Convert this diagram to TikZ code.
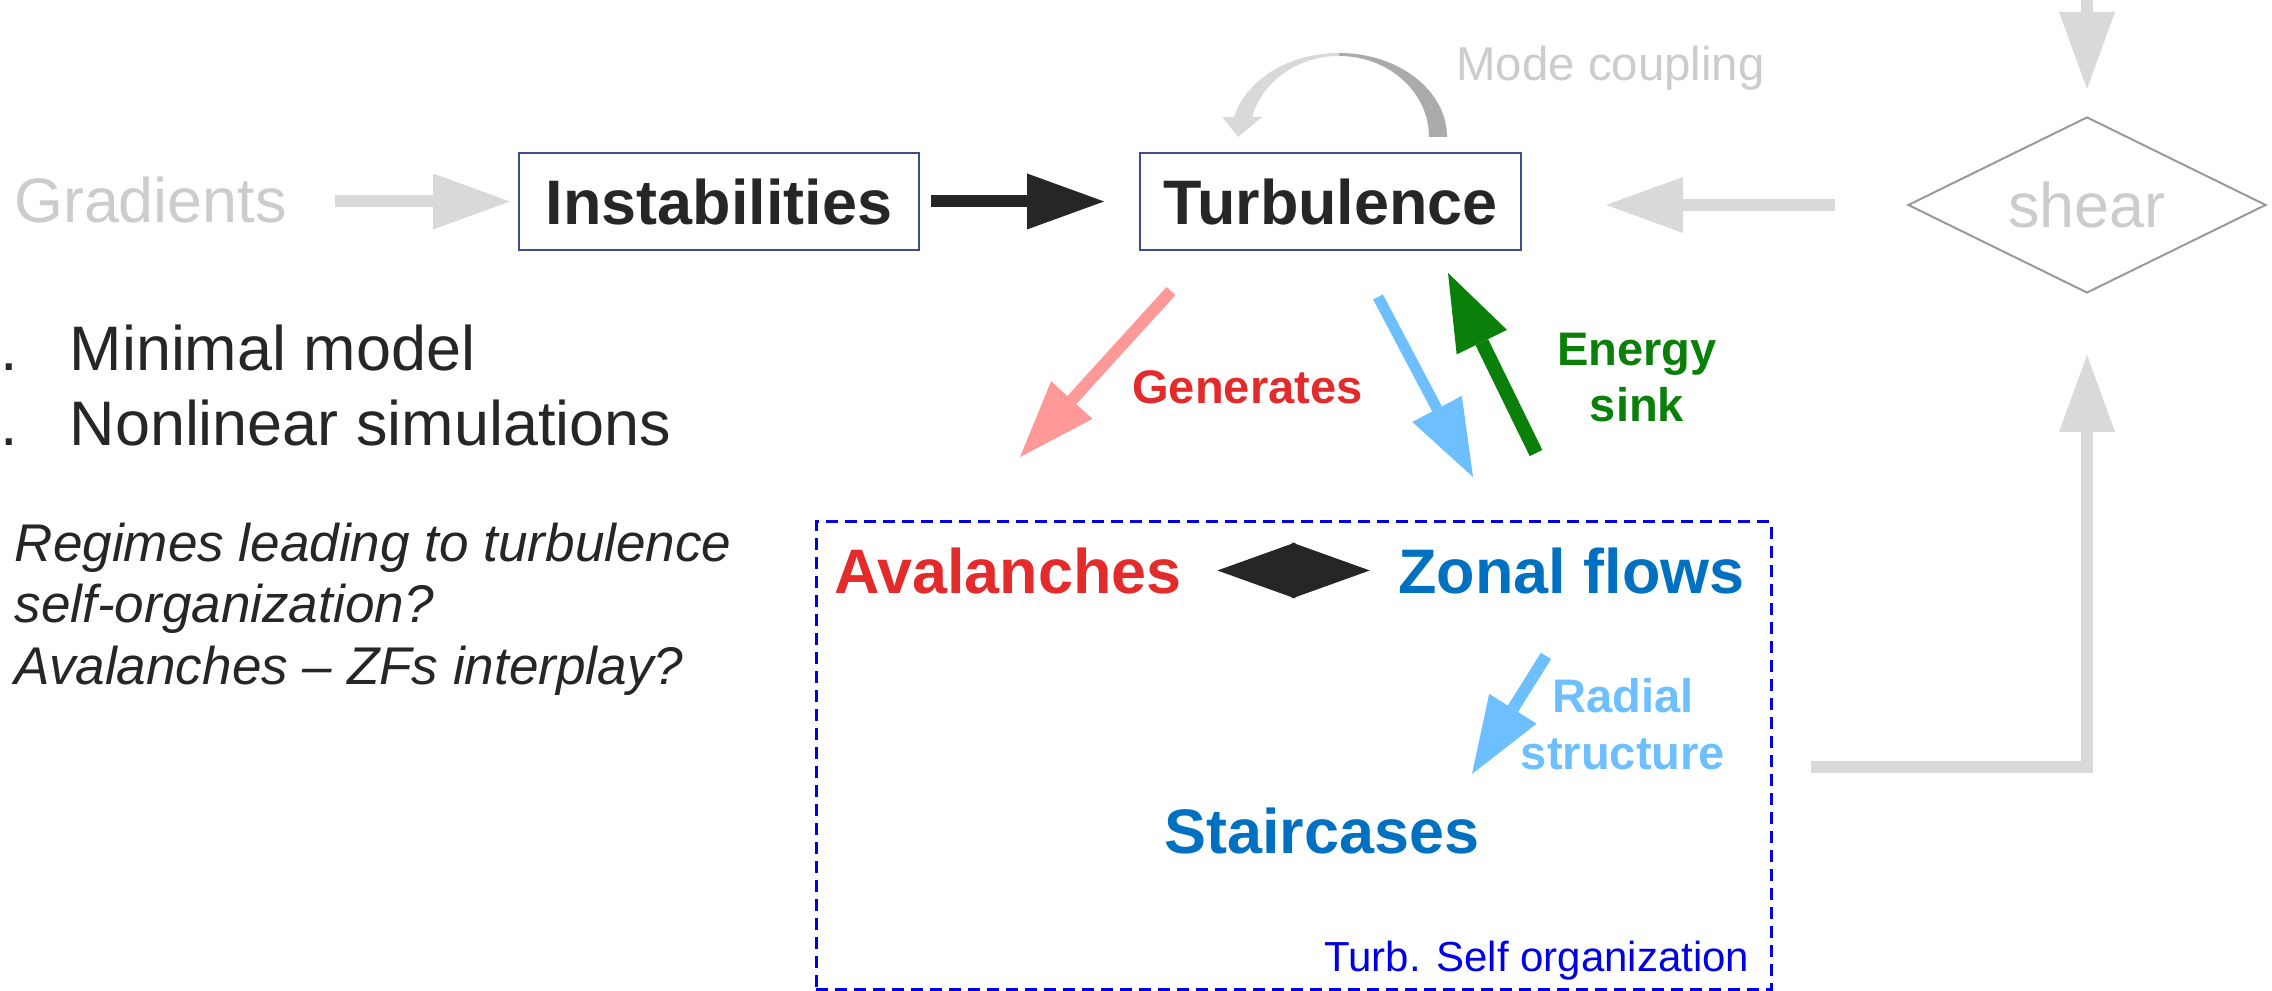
\documentclass[tikz,border=0pt]{standalone}
\usepackage{fontspec}
\setmainfont{Liberation Sans}[Ligatures=CommonOff]
\usetikzlibrary{arrows.meta,positioning,shapes.geometric}
\definecolor{ink}{HTML}{262626}
\definecolor{boxblue}{HTML}{3C4C8C}
\definecolor{greytext}{HTML}{CCCCCC}
\definecolor{arrowgrey}{HTML}{D9D9D9}
\definecolor{arcdark}{HTML}{ABABAB}
\definecolor{diamondgrey}{HTML}{999999}
\definecolor{avred}{HTML}{E32B2B}
\definecolor{zfblue}{HTML}{0070C0}
\definecolor{lightblue}{HTML}{6DBFFF}
\definecolor{genpink}{HTML}{FF9999}
\definecolor{sinkgreen}{HTML}{0A7F0A}
\definecolor{dashblue}{HTML}{0000E6}
\tikzset{
  big/.style={font=\fontsize{17.9}{21.5}\selectfont,inner sep=0pt,text height=0.455cm,text depth=0pt},
  bigb/.style={big,font=\fontsize{17.9}{21.5}\selectfont\bfseries},
  box/.style={bigb,draw=boxblue,line width=0.02cm,minimum height=0.97cm,text=ink},
  mid/.style={font=\fontsize{13.4}{16.1}\selectfont\bfseries,inner sep=0pt,align=center,anchor=north},
  fat/.style={line width=0.12cm,-{Triangle[length=0.77cm,width=0.56cm,line width=0pt]}},
}
\begin{document}
\begin{tikzpicture}
\useasboundingbox (0,0) rectangle (22.72,9.91);
% \draw[help lines] (0,0) grid (22,9);
\node (grad) [big,text=greytext] at (1.505,7.915) {Gradients};
\node (inst) [box,minimum width=4.0cm] at (7.19,7.895) {Instabilities};
\node (turb) [box,minimum width=3.81cm] at (13.305,7.895) {Turbulence};
\node (shear) [diamond,aspect=2,draw=diamondgrey,line width=0.02cm,minimum width=3.58cm,minimum height=1.76cm,inner sep=0pt,text=greytext,font=\fontsize{17.9}{21.5}\selectfont] at (20.87,7.86) {shear};
\node (mc) [anchor=base west,inner sep=0pt,text=greytext,font=\fontsize{13.5}{16}\selectfont] at (14.555,9.10) {Mode coupling};
%
\node (bul) [anchor=north west,inner sep=0pt,align=left,text=ink,font=\fontsize{17.9}{21.3}\selectfont] at (0,6.67) {\makebox[0.69cm][l]{.}Minimal model\\\makebox[0.69cm][l]{.}Nonlinear simulations};
\node (quest) [anchor=north west,inner sep=0pt,align=left,text=ink,font=\itshape\fontsize{15.1}{17.6}\selectfont] at (0.14,4.69) {Regimes leading to turbulence\\self-organization?\\Avalanches – ZFs interplay?};
%
\node (sobox) [draw=dashblue,line width=0.03cm,dash pattern=on 0.12cm off 0.07cm,minimum width=9.55cm,minimum height=4.68cm,inner sep=0pt] at (12.935,2.35) {};
\node (aval) [bigb,text=avred] at (10.08,4.205) {Avalanches};
\node (zf) [bigb,text=zfblue] at (15.715,4.205) {Zonal flows};
\node (stair) [bigb,text=zfblue] at (13.22,1.605) {Staircases};
\node (tso) [anchor=base east,inner sep=0pt,text=dashblue,font=\fontsize{11.95}{14}\selectfont] at (17.50,0.19) {Turb. Self organization};
%
\node (gen) [mid,anchor=base,text=avred] at (12.475,5.87) {Generates};
\node (sink) [mid,text=sinkgreen] at (16.37,6.59) {Energy\\sink};
\node (rad) [mid,text=lightblue] at (16.23,3.13) {Radial\\structure};
%
\draw[fat,draw=arrowgrey,shorten <=0.47cm,shorten >=0.08cm] (grad.east |- inst.west) -- (inst.west);
\draw[fat,draw=ink,shorten <=0.11cm,shorten >=0.35cm] (inst.east) -- (turb.west);
\draw[fat,draw=arrowgrey,shorten <=0.72cm,shorten >=0.84cm] (shear.west) -- (turb.east |- shear.west);
\coordinate (shtop) at (20.87,9.91);
\draw[fat,draw=arrowgrey,shorten >=0.27cm] (shtop) -- (shear.north);
\draw[fat,draw=arrowgrey,shorten >=0.61cm] ([shift={(0.38,-0.11)}]sobox.east) -| (shear.south);
% mode coupling loop
\coordinate (mcc) at ([shift={(0.085,0.15)}]turb.north);
\fill[arcdark] (mcc) ++(1.08,0) arc[start angle=0,end angle=90,x radius=1.08cm,y radius=0.84cm] -- ++(0,-0.03) arc[start angle=90,end angle=0,x radius=0.90cm,y radius=0.81cm] -- cycle;
\fill[arrowgrey] (mcc) ++(0,0.84) arc[start angle=90,end angle=166.2,x radius=1.08cm,y radius=0.84cm] -- ++(-0.12,0) -- ++(0.16,-0.20) -- ++(0.24,0.20) -- ++(-0.10,0) arc[start angle=165.7,end angle=90,x radius=0.90cm,y radius=0.81cm] -- cycle;
%
\draw[fat,draw=genpink] ([shift={(-1.595,-0.40)}]turb.south) -- ([shift={(0.12,0.90)}]aval.north);
\draw[fat,draw=lightblue,line width=0.11cm] ([shift={(0.475,-0.46)}]turb.south) -- ([shift={(-0.985,0.70)}]zf.north);
\draw[fat,draw=sinkgreen,line width=0.14cm] ([shift={(-0.355,0.94)}]zf.north) -- ([shift={(1.175,-0.22)}]turb.south);
\draw[fat,draw=lightblue] ([shift={(-0.255,-0.62)}]zf.south) -- ([shift={(1.50,0.33)}]stair.north);
\draw[draw=ink,line width=0.01cm,{Triangle[length=0.78cm,width=0.56cm,line width=0pt]}-{Triangle[length=0.78cm,width=0.56cm,line width=0pt]},shorten <=0.35cm,shorten >=0.28cm] (aval.east) -- (zf.west);
\end{tikzpicture}
\end{document}
